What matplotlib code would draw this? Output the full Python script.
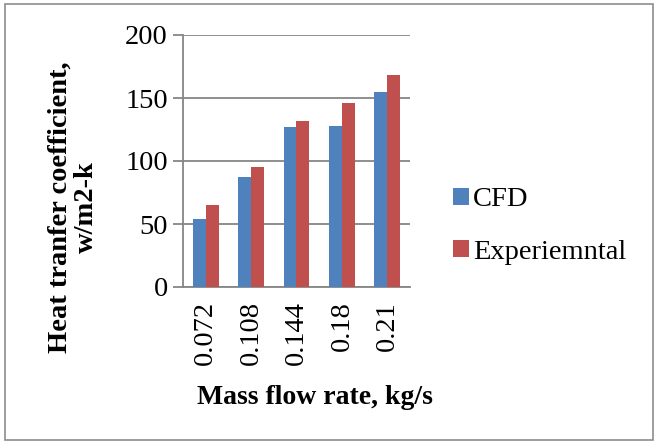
import matplotlib
matplotlib.use("Agg")
import matplotlib.pyplot as plt
import numpy as np
from matplotlib.patches import Rectangle

# mass flow rate categories and heat transfer coefficients
flow_rates = ["0.072", "0.108", "0.144", "0.18", "0.21"]
cfd = [54, 87, 127, 128, 155]
experimental = [65, 95, 132, 146, 168]

blue = "#4F81BD"
red = "#C0504D"
grid_col = "#868686"

plt.rcParams["font.family"] = ["Liberation Serif", "DejaVu Serif"]
fs = 20.5

fig = plt.figure(figsize=(6.54, 4.44), dpi=100)
fig.patches.append(Rectangle((5 / 654, 4 / 444), 648 / 654, 436 / 444,
                             transform=fig.transFigure, fill=False,
                             edgecolor="#8c8c8c", linewidth=1.2))

ax = fig.add_axes([183 / 654, 1 - 287 / 444, 227 / 654, 252 / 444])
x = np.arange(len(flow_rates))
w = 0.286
ax.bar(x - w / 2, cfd, w, color=blue, label="CFD", zorder=3)
ax.bar(x + w / 2, experimental, w, color=red, label="Experiemntal", zorder=3)

ax.set_xlim(-0.5, len(flow_rates) - 0.5)
ax.set_ylim(0, 200)
ax.set_yticks([0, 50, 100, 150, 200])
ax.yaxis.grid(True, color=grid_col, linewidth=1.3, zorder=0)
ax.set_xticks(x)
ax.set_xticklabels(flow_rates, rotation=90, fontsize=fs)
ax.tick_params(axis="x", length=0, pad=10)
ax.tick_params(axis="y", length=7, color=grid_col, width=1.3, labelsize=fs, pad=4)

for s in ["top", "right"]:
    ax.spines[s].set_visible(False)
for s in ["left", "bottom"]:
    ax.spines[s].set_color(grid_col)
    ax.spines[s].set_linewidth(1.3)

fig.text(73 / 654, 1 - 207 / 444, "Heat tranfer coefficient,\nw/m2-k",
         rotation=90, ha="center", va="center", fontsize=fs,
         fontweight="bold", linespacing=1.05)
fig.text(315 / 654, 1 - 397 / 444, "Mass flow rate, kg/s", ha="center",
         va="center", fontsize=20, fontweight="bold")

fig.legend(loc="center left", bbox_to_anchor=(442 / 654, 1 - 226 / 444),
           frameon=False, fontsize=fs, handlelength=0.55, handleheight=0.55,
           handletextpad=0.15, labelspacing=0.95, borderaxespad=0)

fig.savefig("out.png", dpi=100)
